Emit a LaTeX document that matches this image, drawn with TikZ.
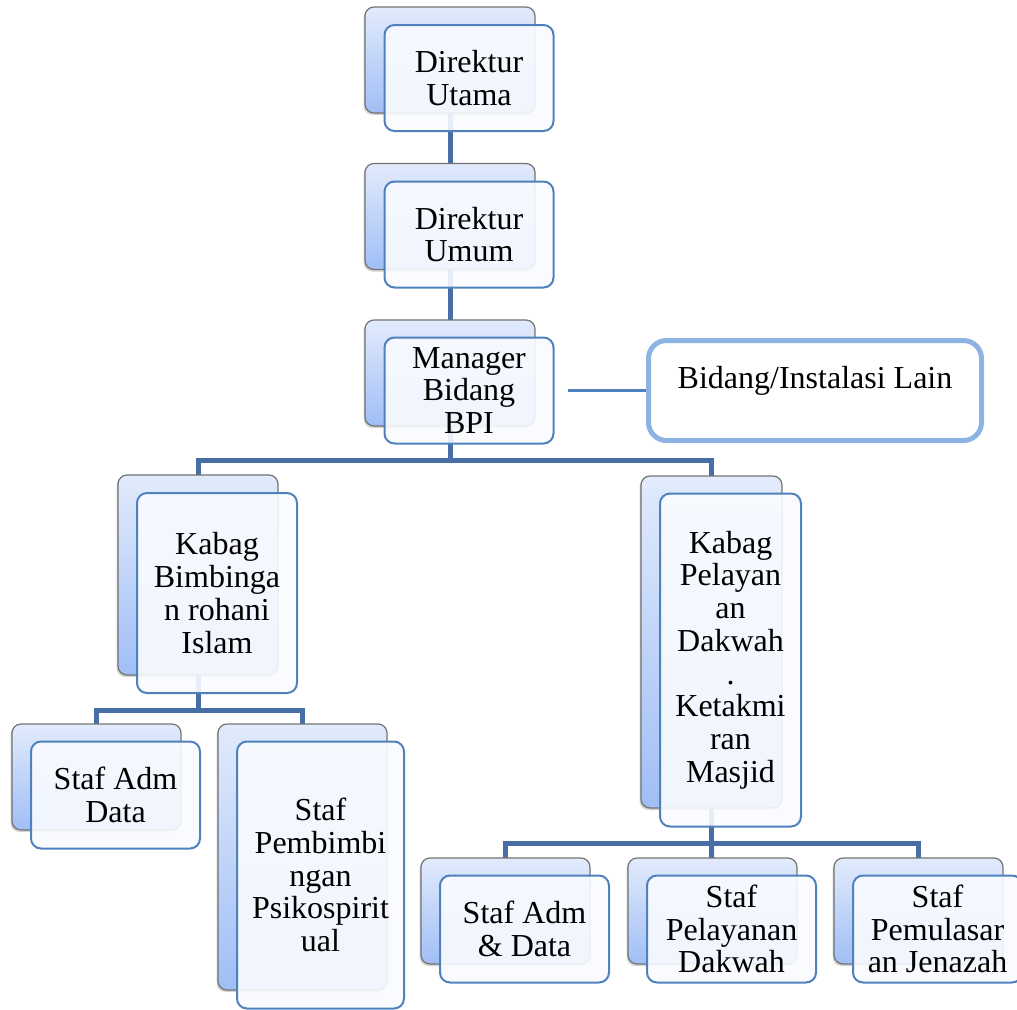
\documentclass[tikz,border=0pt]{standalone}
\usepackage{fontspec}
\setmainfont{Liberation Serif}
\usetikzlibrary{shadows,backgrounds}

\definecolor{linkblue}{RGB}{72,111,165}
\definecolor{frameblue}{RGB}{79,129,189}
\definecolor{otherblue}{RGB}{141,179,226}
\definecolor{backtop}{RGB}{226,235,252}
\definecolor{backbot}{RGB}{160,190,246}
\definecolor{frontfill}{RGB}{249,251,255}

\tikzset{
  backbox/.style = {draw = gray!90!black, line width = 1.2pt, rounded corners = 9pt,
    top color = backtop, bottom color = backbot,
    drop shadow = {shadow xshift = -1.5pt, shadow yshift = -2pt, opacity = 0.35}},
  frontbox/.style = {draw = frameblue, line width = 2pt, rounded corners = 10pt,
    fill = frontfill, fill opacity = 0.9, text opacity = 1, align = center,
    inner sep = 2pt, font = \fontsize{32}{32.7}\selectfont},
  otherbox/.style = {draw = otherblue, line width = 5pt, rounded corners = 18pt,
    fill = white, font = \fontsize{32}{32.7}\selectfont,
    text height = 20pt, text depth = 25pt},
  link/.style = {draw = linkblue, line width = 5pt},
  sidelink/.style = {draw = frameblue, line width = 2.5pt}
}

\begin{document}
\begin{tikzpicture}[x = 1pt, y = -1pt]
    \useasboundingbox (0,0) rectangle (1017,1009);

    % top of the chart
    \node [backbox, minimum width = 170pt, minimum height = 106pt] (utamaB) at (450,60) {};
    \node [frontbox, minimum width = 169pt, minimum height = 106pt] (utama) at (469,78) {Direktur\\Utama};

    \node [backbox, minimum width = 170pt, minimum height = 106pt] (umumB) at (450,216.5) {};
    \node [frontbox, minimum width = 169pt, minimum height = 106pt] (umum) at (469,234.5) {Direktur\\Umum};

    \node [backbox, minimum width = 170pt, minimum height = 106pt] (managerB) at (450,373) {};
    \node [frontbox, minimum width = 169pt, minimum height = 106pt] (manager) at (469,390.5) {Manager\\Bidang\\BPI};

    % other units
    \node [otherbox, minimum width = 333pt, minimum height = 100pt] (lain) at (815,390.5) {Bidang/Instalasi Lain};

    % heads of section
    \node [backbox, minimum width = 160pt, minimum height = 200pt] (bimbB) at (198,575) {};
    \node [frontbox, minimum width = 160pt, minimum height = 200pt] (bimb) at (217,593) {Kabag\\Bimbinga\\n rohani\\Islam};

    \node [backbox, minimum width = 141pt, minimum height = 332pt] (pelayanB) at (711.5,642) {};
    \node [frontbox, minimum width = 141pt, minimum height = 333pt] (pelayan) at (730.5,660) {Kabag\\Pelayan\\an\\Dakwah\\.\\Ketakmi\\ran\\Masjid};

    % staff under Bimbingan rohani
    \node [backbox, minimum width = 169pt, minimum height = 106pt] (admAB) at (96.5,777) {};
    \node [frontbox, minimum width = 169pt, minimum height = 107pt] (admA) at (115.5,795) {Staf Adm\\Data};

    \node [backbox, minimum width = 169pt, minimum height = 266pt] (psikoB) at (302.5,857) {};
    \node [frontbox, minimum width = 167pt, minimum height = 267pt] (psiko) at (320.5,875) {Staf\\Pembimbi\\ngan\\Psikospirit\\ual};

    % staff under Pelayanan Dakwah
    \node [backbox, minimum width = 169pt, minimum height = 106pt] (admBB) at (505.5,911) {};
    \node [frontbox, minimum width = 169pt, minimum height = 107pt] (admB) at (524.5,929) {Staf Adm\\\& Data};

    \node [backbox, minimum width = 169pt, minimum height = 106pt] (dakwahB) at (712.5,911) {};
    \node [frontbox, minimum width = 169pt, minimum height = 107pt] (dakwah) at (731.5,929) {Staf\\Pelayanan\\Dakwah};

    \node [backbox, minimum width = 169pt, minimum height = 106pt] (jenazahB) at (918.5,911) {};
    \node [frontbox, minimum width = 169pt, minimum height = 107pt] (jenazah) at (937.5,929) {Staf\\Pemulasar\\an Jenazah};

    % bus points
    \coordinate (busA) at (450,460);
    \coordinate (busB) at (198,710);
    \coordinate (busC) at (711.5,843);

    % connections, drawn behind the boxes
    \begin{scope}[on background layer]
        \draw [link] (utamaB.center) -- (umumB.center);
        \draw [link] (umumB.center) -- (managerB.center);
        \draw [link] (managerB.center) -- (busA);
        \draw [link] (bimbB.center) |- (busA) -| (pelayanB.center);
        \draw [link] (bimbB.center) -- (busB);
        \draw [link] (admAB.center) |- (busB) -| (psikoB.center);
        \draw [link] (pelayanB.center) -- (busC);
        \draw [link] (admBB.center) |- (busC) -| (jenazahB.center);
        \draw [link] (busC) -- (dakwahB.center);
    \end{scope}

    % side line to the other units
    \draw [sidelink, shorten < = 13pt] (manager.east) -- (lain.west);
\end{tikzpicture}
\end{document}
